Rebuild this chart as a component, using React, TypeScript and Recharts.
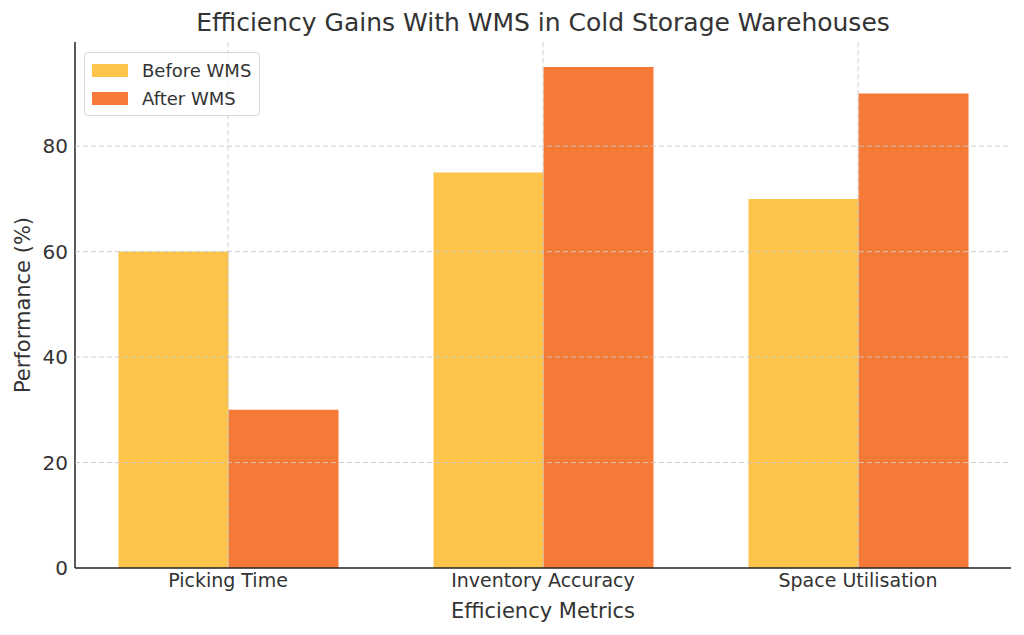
import React from "react";
import { BarChart, Bar, XAxis, YAxis, CartesianGrid } from "recharts";

const metrics = ["Picking Time", "Inventory Accuracy", "Space Utilisation"];
const beforeWms = [60, 75, 70];
const afterWms = [30, 95, 90];
const yTicks = [0, 20, 40, 60, 80];
const gridTicks = [20, 40, 60, 80];
const Y_MAX = 99.75;

const YELLOW = "#FCC44B";
const ORANGE = "#F57A38";
const FONT = "'DejaVu Sans', sans-serif";
const TEXT = "#333333";

const data = metrics.map((m, i) => ({ metric: m, before: beforeWms[i], after: afterWms[i] }));

// recharts 3 may hand over a plain d3 scale or a wrapper with .map()
function applyScale(s: any, v: any): number {
  if (typeof s === "function") return s(v);
  if (s && typeof s.map === "function") return s.map(v);
  return NaN;
}

function LegendBox() {
  const rows = [
    { label: "Before WMS", color: YELLOW },
    { label: "After WMS", color: ORANGE },
  ];
  return (
    <div style={{
      position: "absolute", top: 52, left: 84, zIndex: 5,
      background: "rgba(255,255,255,0.8)", border: "1px solid #d6d6d6", borderRadius: 4,
      padding: "3px 8px 3px 7px", fontFamily: FONT, fontSize: 18, color: TEXT,
    }}>
      {rows.map((r) => (
        <div key={r.label} style={{ display: "flex", alignItems: "center", height: 28 }}>
          <span style={{ display: "inline-block", width: 36, height: 13, background: r.color, marginRight: 14 }} />
          <span>{r.label}</span>
        </div>
      ))}
    </div>
  );
}

export default function App() {
  return (
    <div style={{ position: "fixed", left: 0, top: 0, width: 1024, height: 635, background: "#fff" }}>
      <div style={{
        position: "absolute", top: 8, left: 75, width: 936, textAlign: "center",
        fontFamily: FONT, fontSize: 25, color: TEXT,
      }}>
        Efficiency Gains With WMS in Cold Storage Warehouses
      </div>
      <LegendBox />
      <BarChart width={1024} height={635} data={data}
        margin={{ top: 42, right: 13, bottom: 0, left: 15 }}
        barGap={0} barSize={110}>
        <XAxis dataKey="metric" height={67} padding={{ left: -4.5, right: -4.5 }}
          axisLine={{ stroke: "#222", strokeWidth: 1.5 }} tickLine={false} tickSize={4} tickMargin={2}
          tick={{ fontSize: 19, fill: TEXT, fontFamily: FONT }}
          label={{ value: "Efficiency Metrics", position: "insideBottom", offset: 17, fontSize: 21, fill: TEXT, fontFamily: FONT }} />
        <YAxis width={60} domain={[0, Y_MAX]} ticks={yTicks} interval={0}
          axisLine={{ stroke: "#222", strokeWidth: 1.5 }} tickLine={false} tickSize={2} tickMargin={5}
          tick={{ fontSize: 20, fill: TEXT, fontFamily: FONT }}
          label={{ value: "Performance (%)", angle: -90, position: "insideLeft", offset: 8, fontSize: 21, fill: TEXT, fontFamily: FONT, style: { textAnchor: "middle" } }} />
        <Bar dataKey="before" name="Before WMS" fill={YELLOW} isAnimationActive={false} />
        <Bar dataKey="after" name="After WMS" fill={ORANGE} isAnimationActive={false} />
        <CartesianGrid stroke="#c8c8c8" strokeDasharray="5 3" strokeWidth={0.9} zIndex={1000}
          horizontalCoordinatesGenerator={(props: any) => {
            const out = gridTicks.map((t) => applyScale(props.yAxis?.scale, t));
            if (out.every((v) => Number.isFinite(v))) return out;
            const o = props.offset;
            return gridTicks.map((t) => o.top + o.height * (1 - t / Y_MAX));
          }}
          verticalCoordinatesGenerator={(props: any) => {
            const s = props.xAxis?.scale;
            const bw = s && typeof s.bandwidth === "function" ? s.bandwidth() / 2 : 0;
            const out = metrics.map((m) => applyScale(s, m) + bw);
            if (out.every((v) => Number.isFinite(v))) return out;
            const o = props.offset;
            const band = (o.width + 9) / metrics.length;
            return metrics.map((_, i) => o.left - 4.5 + band * (i + 0.5));
          }} />
      </BarChart>
    </div>
  );
}
